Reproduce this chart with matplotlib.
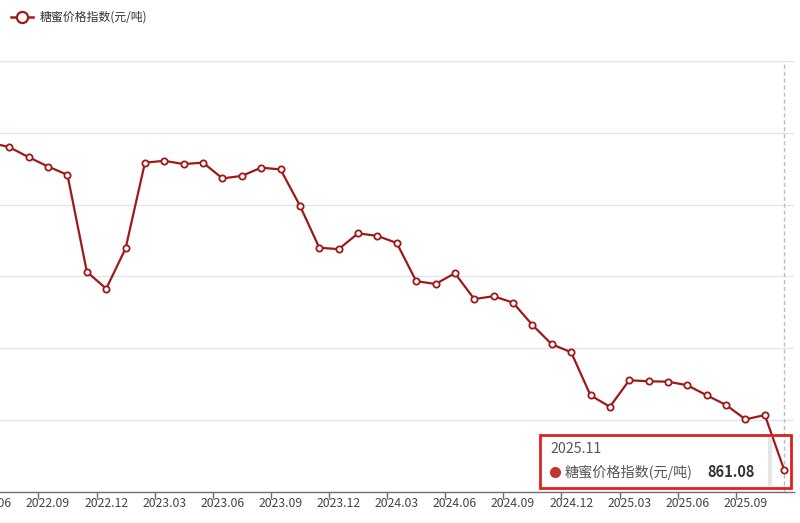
import matplotlib
matplotlib.use('Agg')
import matplotlib.pyplot as plt
from matplotlib.patches import Rectangle
from matplotlib.lines import Line2D

plt.rcParams['font.family'] = ['Noto Sans CJK SC', 'DejaVu Sans']

# monthly molasses price index, 2022.06 - 2025.11
months = ['2022.06', '2022.07', '2022.08', '2022.09', '2022.10', '2022.11', '2022.12',
          '2023.01', '2023.02', '2023.03', '2023.04', '2023.05', '2023.06', '2023.07',
          '2023.08', '2023.09', '2023.10', '2023.11', '2023.12', '2024.01', '2024.02',
          '2024.03', '2024.04', '2024.05', '2024.06', '2024.07', '2024.08', '2024.09',
          '2024.10', '2024.11', '2024.12', '2025.01', '2025.02', '2025.03', '2025.04',
          '2025.05', '2025.06', '2025.07', '2025.08', '2025.09', '2025.10', '2025.11']
prices = [1773, 1760, 1732, 1706, 1683, 1413, 1366,
          1478, 1717, 1722, 1713, 1717, 1673, 1680,
          1703, 1698, 1597, 1480, 1476, 1520, 1513,
          1493, 1387, 1379, 1409, 1337, 1345, 1327,
          1265, 1211, 1189, 1069, 1037, 1111, 1108,
          1107, 1097, 1069, 1042, 1002, 1014, 861.08]
series_name = '糖蜜价格指数(元/吨)'
y_ticks = [800, 1000, 1200, 1400, 1600, 1800, 2000]

W, H = 800, 523
fig = plt.figure(figsize=(W / 100, H / 100), dpi=100)

# plot area (pixels): x from -19.7 to 793.9, y from 61 (top) to 491.9 (bottom)
left, right, top, bottom = -19.7, 793.9, 61.0, 491.9
ax = fig.add_axes([left / W, (H - bottom) / H, (right - left) / W, (bottom - top) / H])

xs = list(range(len(months)))
line_color = '#9e1a1a'
ax.plot(xs, prices, color=line_color, lw=1.6, marker='o', ms=4.5,
        mfc='white', mec=line_color, mew=1.3, label=series_name, zorder=5)

ax.set_xlim(-0.5, len(months) - 0.5)
ax.set_ylim(800, 2000)
ax.set_yticks(y_ticks)
ax.yaxis.grid(True, color='#e0e6f1', lw=1)
ax.set_axisbelow(True)
ax.tick_params(axis='y', length=0, labelleft=False)

# ticks on category boundaries, labels on the categories every 3 months
label_idx = list(range(0, len(months), 3))
ax.set_xticks([i - 0.5 for i in label_idx])
ax.set_xticklabels([])
ax.set_xticks(label_idx, minor=True)
ax.set_xticklabels([months[i] for i in label_idx], minor=True)
ax.tick_params(axis='x', which='major', length=5, color='#6e7079', width=1)
ax.tick_params(axis='x', which='minor', length=0, pad=4, labelsize=8.8, labelcolor='#444444')

for s in ['top', 'right', 'left']:
    ax.spines[s].set_visible(False)
ax.spines['bottom'].set_color('#6e7079')
ax.spines['bottom'].set_linewidth(1)

# axis pointer for the last month
ax.axvline(xs[-1], color='#bbbbbb', lw=1, ls=(0, (3, 2)), zorder=2)

leg = ax.legend(loc='upper left', bbox_to_anchor=(0.0, 1.0), bbox_transform=fig.transFigure,
                frameon=False, fontsize=8.6, handlelength=1.9, borderaxespad=0.5,
                handletextpad=0.5)
for h in leg.legend_handles:
    h.set_markersize(8)
    h.set_markeredgewidth(1.6)
    h.set_linewidth(1.8)
for t in leg.get_texts():
    t.set_color('#333333')

# tooltip
def fx(px):
    return px / W

def fy(py):
    return (H - py) / H

fig.add_artist(Rectangle((fx(768), fy(486)), 4 / W, 50 / H, transform=fig.transFigure,
                         facecolor='#e6e6e6', edgecolor='none', zorder=9))
fig.add_artist(Rectangle((fx(541), fy(486)), 227 / W, 50 / H, transform=fig.transFigure,
                         facecolor='white', edgecolor='none', alpha=0.95, zorder=10))
fig.text(fx(550), fy(449), months[-1], fontsize=10.2, color='#555555',
         va='center', ha='left', zorder=11)
fig.add_artist(Line2D([fx(555)], [fy(472)], transform=fig.transFigure, marker='o',
                      ms=8, mfc='#c23531', mec='none', ls='none', zorder=11))
fig.text(fx(565), fy(472), series_name, fontsize=10.2, color='#555555',
         va='center', ha='left', zorder=11)
fig.text(fx(755), fy(472), f'{prices[-1]:.2f}', fontsize=10.5, color='#333333',
         fontweight='bold', va='center', ha='right', zorder=11)

# red highlight frame
fig.add_artist(Rectangle((fx(540), fy(488)), 251 / W, 53 / H, transform=fig.transFigure,
                         facecolor='none', edgecolor='#e0201c', lw=2, zorder=12))

fig.savefig('out.png', dpi=100)
